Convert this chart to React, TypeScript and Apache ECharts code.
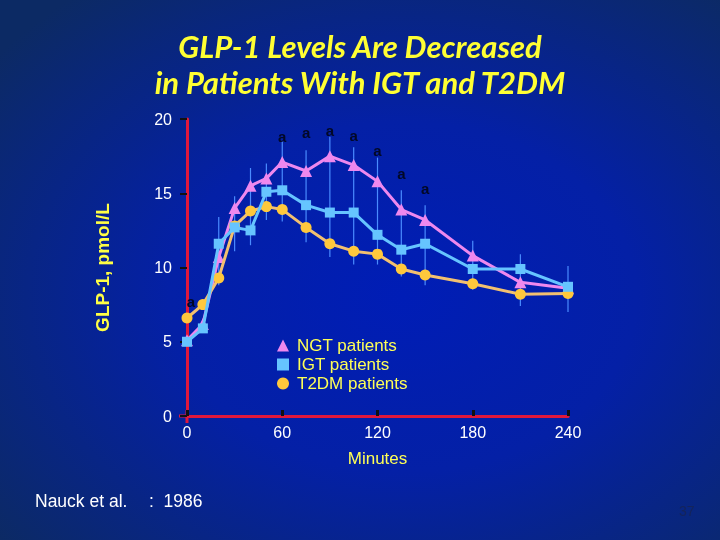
import React, { useEffect, useRef } from "react";
import * as echarts from "echarts";

const times = [0, 10, 20, 30, 40, 50, 60, 75, 90, 105, 120, 135, 150, 180, 210, 240];
const ngt = [5.1, 6.2, 10.7, 14.0, 15.5, 16.0, 17.1, 16.5, 17.5, 16.9, 15.8, 13.9, 13.2, 10.8, 9.0, 8.6];
const igt = [5.0, 5.9, 11.6, 12.7, 12.5, 15.1, 15.2, 14.2, 13.7, 13.7, 12.2, 11.2, 11.6, 9.9, 9.9, 8.7];
const t2dm = [6.6, 7.5, 9.3, 12.8, 13.8, 14.1, 13.9, 12.7, 11.6, 11.1, 10.9, 9.9, 9.5, 8.9, 8.2, 8.25];
const errLow = [null, null, 8.8, 11.1, 11.5, 13.2, 13.1, 11.7, 10.7, 10.2, 10.2, 9.4, 8.8, 8.5, 7.4, 7.0];
const errHigh = [null, null, 13.4, 14.8, 16.7, 17.0, 18.5, 17.9, 18.8, 18.1, 17.4, 15.2, 14.2, 11.8, 10.9, 10.1];
const sigTimes = [10, 60, 75, 90, 105, 120, 135, 150];
const sigValues = [7.7, 18.85, 19.1, 19.25, 18.9, 17.9, 16.35, 15.3];
const yTicks = [0, 5, 10, 15, 20];
const xTicks = [0, 60, 120, 180, 240];
const seriesNames = ["NGT patients", "IGT patients", "T2DM patients"];
const titleLines = ["GLP-1 Levels Are Decreased", "in Patients With IGT and T2DM"];

const pair = (vals: number[]) => times.map((t, i) => [t, vals[i]]);

export default function App() {
  const ref = useRef<HTMLDivElement>(null);
  useEffect(() => {
    if (!ref.current) return;
    const chart = echarts.init(ref.current, undefined, { renderer: "svg" });
    const font = "Liberation Sans";
    const errData = times
      .map((t, i) => [t, errLow[i], errHigh[i]])
      .filter((d) => d[1] != null);
    const titleStyle = {
      fill: "#ffff33",
      fontSize: 31,
      fontStyle: "italic",
      fontWeight: "bold",
      fontFamily: "Lato",
      textAlign: "center",
      textVerticalAlign: "middle",
    };
    chart.setOption({
      animation: false,
      backgroundColor: {
        type: "radial",
        x: 0.56,
        y: 0.55,
        r: 0.72,
        colorStops: [
          { offset: 0, color: "#001db6" },
          { offset: 0.45, color: "#0420a6" },
          { offset: 1, color: "#0c2a64" },
        ],
      },
      legend: {
        orient: "vertical",
        left: 272,
        top: 332,
        itemWidth: 12,
        itemHeight: 12,
        itemGap: 2,
        textStyle: { color: "#ffff55", fontSize: 17, fontFamily: font, padding: [0, 0, 0, 3] },
        data: [
          { name: seriesNames[0], icon: "triangle" },
          { name: seriesNames[1], icon: "rect" },
          { name: seriesNames[2], icon: "circle" },
        ],
      },
      grid: { left: 187, right: 152, top: 119, bottom: 124 },
      xAxis: {
        type: "value",
        min: 0,
        max: 240,
        interval: 60,
        name: "Minutes",
        nameLocation: "middle",
        nameGap: 34,
        nameTextStyle: { color: "#ffff55", fontSize: 17, fontFamily: font },
        axisLine: { lineStyle: { color: "#e0183c", width: 3 } },
        axisTick: { inside: true, length: 6, lineStyle: { color: "#111", width: 3 } },
        axisLabel: {
          color: "#ffffff",
          fontSize: 16,
          fontFamily: font,
          margin: 8,
          customValues: xTicks,
        },
        splitLine: { show: false },
      },
      yAxis: {
        type: "value",
        min: 0,
        max: 20,
        interval: 5,
        name: "GLP-1, pmol/L",
        nameLocation: "middle",
        nameGap: 75,
        nameRotate: 90,
        nameTextStyle: { color: "#ffff44", fontSize: 19, fontWeight: "bold", fontFamily: font },
        axisLine: { show: true, lineStyle: { color: "#e0183c", width: 3 } },
        axisTick: { show: true, length: 7, lineStyle: { color: "#111", width: 2 } },
        axisLabel: { color: "#ffffff", fontSize: 16, fontFamily: font, margin: 15, customValues: yTicks },
        splitLine: { show: false },
      },
      series: [
        {
          type: "custom",
          name: "err",
          z: 1,
          data: errData,
          renderItem: (params: any, api: any) => {
            const p1 = api.coord([api.value(0), api.value(1)]);
            const p2 = api.coord([api.value(0), api.value(2)]);
            return {
              type: "line",
              shape: { x1: p1[0], y1: p1[1], x2: p2[0], y2: p2[1] },
              style: { stroke: "#4a8cff", lineWidth: 1.2 },
            };
          },
        },
        {
          type: "line",
          name: seriesNames[0],
          z: 2,
          data: pair(ngt),
          symbol: "triangle",
          symbolSize: 12,
          lineStyle: { color: "#ee88ee", width: 3 },
          itemStyle: { color: "#ee88ee" },
        },
        {
          type: "line",
          name: seriesNames[2],
          z: 3,
          data: pair(t2dm),
          symbol: "circle",
          symbolSize: 11,
          lineStyle: { color: "#f2c070", width: 3 },
          itemStyle: { color: "#ffc83c" },
        },
        {
          type: "line",
          name: seriesNames[1],
          z: 4,
          data: pair(igt),
          symbol: "rect",
          symbolSize: 10,
          lineStyle: { color: "#66c4ff", width: 3 },
          itemStyle: { color: "#66c4ff" },
        },
        {
          type: "custom",
          name: "sig",
          z: 5,
          data: sigTimes.map((t, i) => [t, sigValues[i], i === 0 ? -12 : 0]),
          renderItem: (params: any, api: any) => {
            const p = api.coord([api.value(0), api.value(1)]);
            return {
              type: "text",
              x: p[0] + api.value(2),
              y: p[1],
              style: {
                text: "a",
                fill: "#020826",
                fontSize: 15,
                fontWeight: "bold",
                fontFamily: font,
                align: "center",
                verticalAlign: "middle",
              },
            };
          },
        },
      ],
      graphic: [
        { type: "text", x: 360, y: 46, style: { text: titleLines[0], ...titleStyle } },
        { type: "text", x: 360, y: 82, style: { text: titleLines[1], ...titleStyle } },
        {
          type: "line",
          shape: { x1: 179, y1: 416, x2: 188, y2: 416 },
          style: { stroke: "#e0183c", lineWidth: 3 },
        },
        {
          type: "line",
          shape: { x1: 187, y1: 410, x2: 187, y2: 423 },
          style: { stroke: "#e0183c", lineWidth: 3 },
        },
        {
          type: "text",
          left: 35,
          top: 492,
          style: { text: "Nauck et al.", fill: "#ffffff", fontSize: 17.5, fontFamily: font },
        },
        {
          type: "text",
          left: 149,
          top: 492,
          style: { text: ":  1986", fill: "#ffffff", fontSize: 17.5, fontFamily: font },
        },
        {
          type: "text",
          left: 679,
          top: 504,
          style: { text: "37", fill: "#14245a", fontSize: 14, fontFamily: font },
        },
      ],
    });
    return () => chart.dispose();
  }, []);
  return (
    <div
      ref={ref}
      style={{ position: "fixed", left: 0, top: 0, width: 720, height: 540 }}
    />
  );
}
